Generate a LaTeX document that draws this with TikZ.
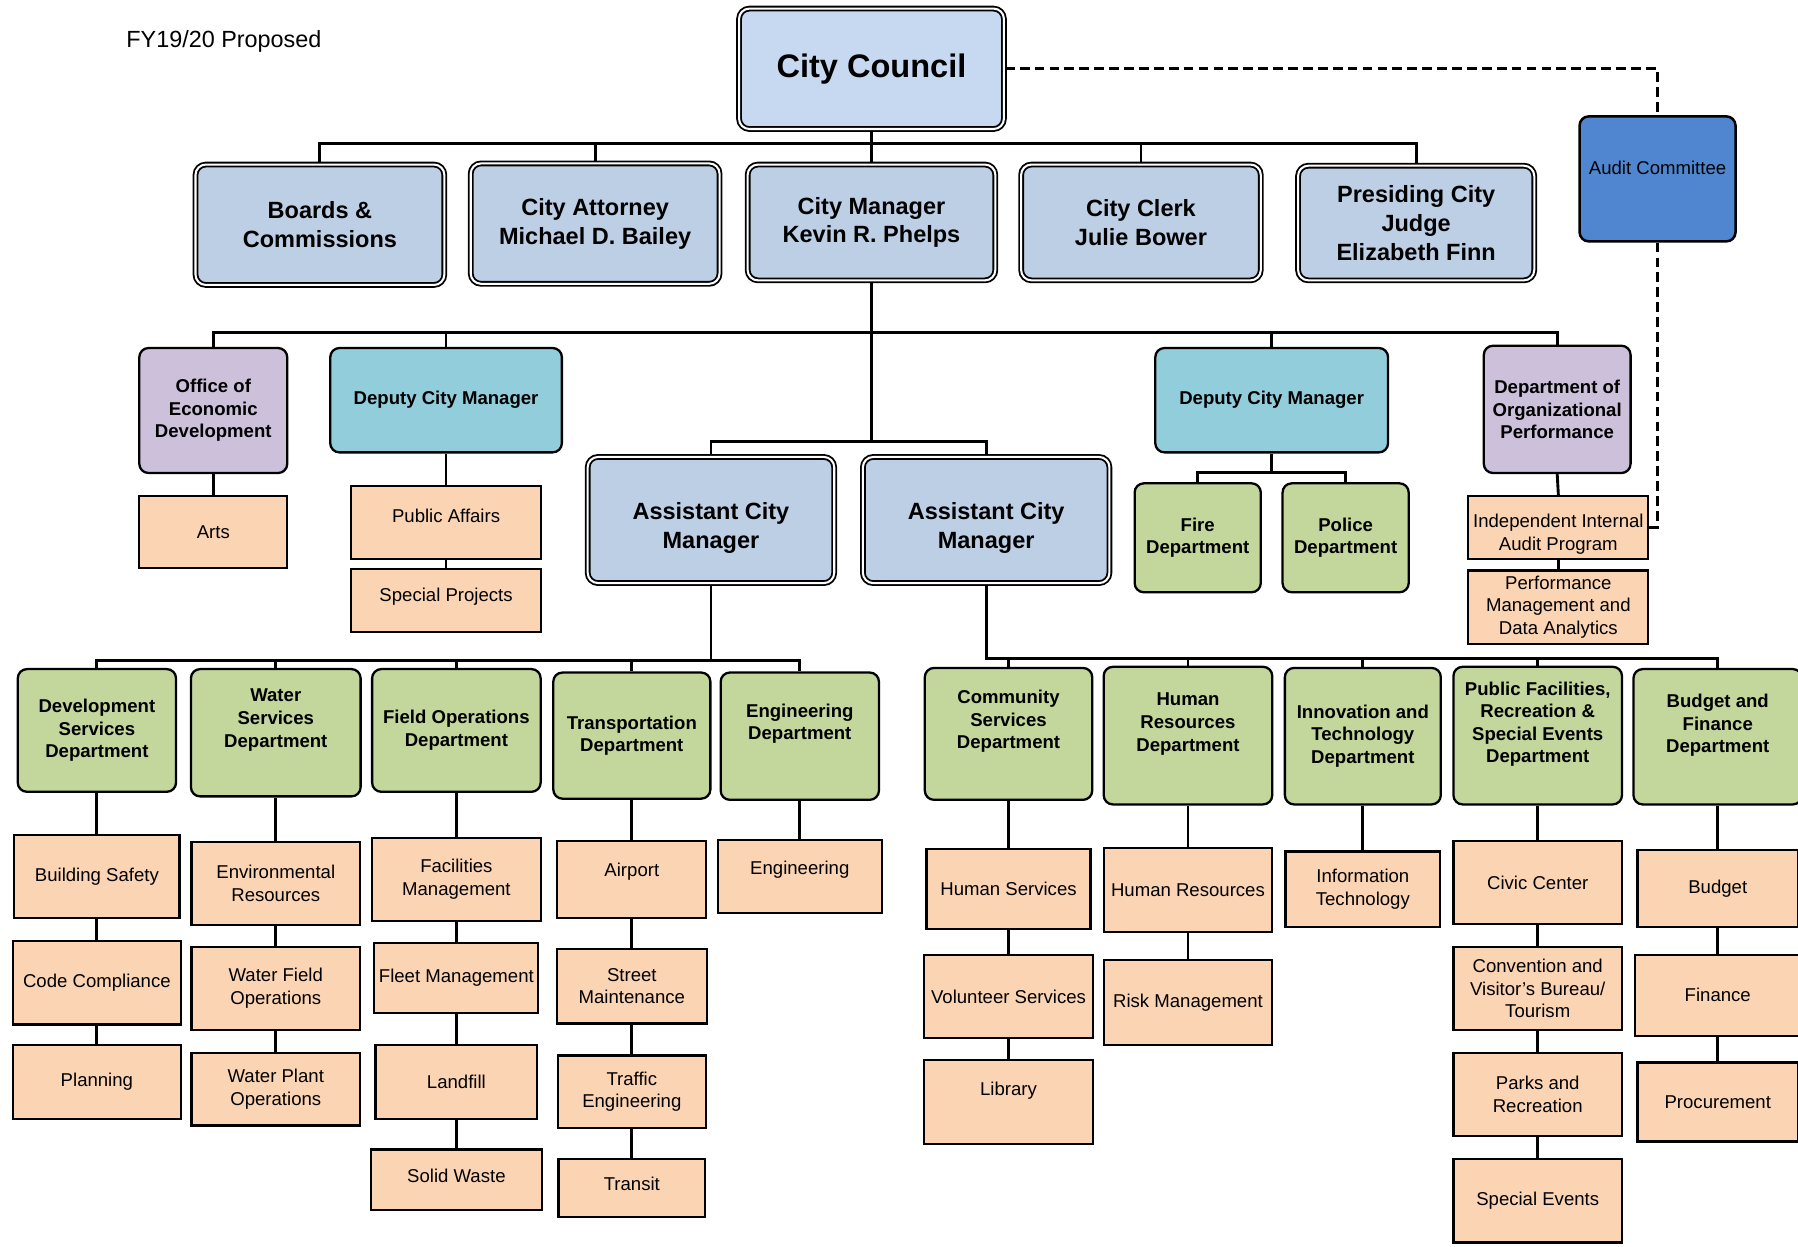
\documentclass[tikz,border=0pt]{standalone}
\usepackage{fontspec}
\setmainfont{Liberation Sans}
\usetikzlibrary{backgrounds}
\definecolor{ccfill}{HTML}{C6D9F1}
\definecolor{lvfill}{HTML}{BDCFE5}
\definecolor{grfill}{HTML}{C3D69B}
\definecolor{pefill}{HTML}{FBD4B4}
\definecolor{pufill}{HTML}{CCC0DA}
\definecolor{tefill}{HTML}{92CDDC}
\definecolor{aufill}{HTML}{4F86CF}
\newcommand\lift[1]{\rule[-#1]{0pt}{#1}}
\newcommand\drop[1]{\rule{0pt}{#1}}
\newcommand\fntS{\fontsize{16.2}{19.8}\selectfont}
\newcommand\fntSB{\fontsize{16.2}{19.7}\selectfont\bfseries}
\newcommand\fntL{\fontsize{20.5}{25}\selectfont\bfseries}
\newcommand\fntCC{\fontsize{28.4}{34}\selectfont\bfseries}
\newcommand\fntT{\fontsize{20.4}{24}\selectfont}
\tikzset{
  box/.style={draw=black, line width=2pt, inner sep=0pt, align=center, anchor=center, text=black},
  sz/.style 2 args={minimum width=#1pt, minimum height=#2pt},
  dblbox/.style={box, rounded corners=9pt, line width=1.6pt, double=white, double distance=1.8pt, fill=lvfill, font=\fntL},
  grbox/.style={box, rounded corners=8pt, fill=grfill, font=\fntSB},
  pubox/.style={box, rounded corners=8pt, fill=pufill, font=\fntSB},
  tebox/.style={box, rounded corners=8pt, fill=tefill, font=\fntSB},
  pebox/.style={box, line width=1.9pt, fill=pefill, font=\fntS},
  aubox/.style={box, rounded corners=8pt, line width=2.2pt, fill=aufill, font=\fntS},
  conn/.style={draw=black, line width=2.5pt},
  dashline/.style={draw=black, line width=2.4pt, dash pattern=on 8.5pt off 4.5pt}
}
\begin{document}
\begin{tikzpicture}[x=1pt, y=-1pt]
\useasboundingbox (0,0) rectangle (1568,1087);

\node[anchor=base west, font=\fntT, inner sep=0pt] (title) at (110,41) {FY19/20 Proposed};

% top levels
\node[dblbox, fill=ccfill, font=\fntCC, sz={231}{105}] (cc) at (760,60) {City Council};
\node[dblbox, sz={217}{105}] (boards) at (279,196) {Boards \&\\Commissions};
\node[dblbox, sz={217}{105}] (atty) at (519,195) {City Attorney\\Michael D. Bailey};
\node[dblbox, sz={216}{101}] (cm) at (760,194) {City Manager\\Kevin R. Phelps};
\node[dblbox, sz={209}{101}] (clerk) at (995,194) {City Clerk\\Julie Bower};
\node[dblbox, sz={206}{100}] (judge) at (1235,194.5) {Presiding City\\Judge\\Elizabeth Finn};
\node[aubox, sz={136}{109}] (audit) at (1445.5,156) {Audit Committee\lift{20pt}};

% level 3
\node[pubox, sz={129}{109}] (oed) at (186,358) {Office of\\Economic\\Development};
\node[tebox, sz={202}{91}] (dcma) at (389,349) {Deputy City Manager};
\node[tebox, sz={203}{91}] (dcmb) at (1109,349) {Deputy City Manager};
\node[pubox, sz={128}{111}] (dop) at (1358,357) {Department of\\Organizational\\Performance};
\node[pebox, sz={129}{63}] (arts) at (186,464) {Arts};
\node[pebox, sz={166}{64}] (pa) at (389,455.5) {Public Affairs\lift{12pt}};
\node[pebox, sz={166}{55}] (sp) at (389,524) {Special Projects\lift{11.4pt}};
\node[grbox, sz={110}{95}] (fire) at (1044.5,469) {Fire\\Department};
\node[grbox, sz={110}{95}] (police) at (1173.5,469) {Police\\Department};
\node[pebox, sz={157}{55}] (iiap) at (1359,460) {\drop{23.8pt}Independent Internal\\Audit Program};
\node[pebox, sz={157}{64}] (pmda) at (1359,529.5) {Performance\\Management and\\Data Analytics};
\node[dblbox, sz={215}{110}] (acma) at (620,453.5) {\drop{29pt}Assistant City\\Manager};
\node[dblbox, sz={215}{110}] (acmb) at (860,453.5) {\drop{29pt}Assistant City\\Manager};

% departments
\node[grbox, sz={138}{107}] (dev) at (84.5,637) {Development\\Services\\Department};
\node[grbox, sz={148}{111}] (water) at (240.5,639) {Water\\Services\\Department\lift{25.4pt}};
\node[grbox, sz={147}{107}] (field) at (398,637) {Field Operations\\Department};
\node[grbox, sz={137}{110}] (transp) at (551,641.5) {Transportation\\Department};
\node[grbox, sz={138}{111}] (engd) at (697.5,642) {Engineering\\Department\lift{25.4pt}};
\node[grbox, sz={146}{115}] (csd) at (879.5,640) {Community\\Services\\Department\lift{25.4pt}};
\node[grbox, sz={147}{120}] (hrd) at (1036,641.5) {Human\\Resources\\Department\lift{23.4pt}};
\node[grbox, sz={136}{119}] (itd) at (1188.5,642) {Innovation and\\Technology\\Department};
\node[grbox, sz={147}{120}] (pfd) at (1341,641.5) {Public Facilities,\\Recreation \&\\Special Events\\Department\lift{23.4pt}};
\node[grbox, sz={147}{118}] (bfd) at (1498,642.5) {Budget and\\Finance\\Department\lift{23.4pt}};

% divisions
\node[pebox, sz={144}{72}] (bs) at (84.5,764.5) {Building Safety};
\node[pebox, sz={146}{73}] (codec) at (84.5,857) {Code Compliance};
\node[pebox, sz={146}{64}] (plan) at (84.5,943.5) {Planning};
\node[pebox, sz={147}{72}] (envr) at (240.5,770.5) {Environmental\\Resources};
\node[pebox, sz={147}{73}] (wfo) at (240.5,862) {Water Field\\Operations};
\node[pebox, sz={147}{63}] (wpo) at (240.5,950) {Water Plant\\Operations};
\node[pebox, sz={147}{73}] (fm) at (398,767) {Facilities\\Management};
\node[pebox, sz={143}{61}] (fleet) at (398,853) {Fleet Management};
\node[pebox, sz={141}{64}] (landfill) at (398,943.5) {Landfill};
\node[pebox, sz={149}{53}] (sw) at (398,1029) {Solid Waste\lift{8pt}};
\node[pebox, sz={130}{67}] (airport) at (551,767) {Airport\lift{17.4pt}};
\node[pebox, sz={131}{65}] (street) at (551,860) {Street\\Maintenance};
\node[pebox, sz={129}{63}] (traffic) at (551,952) {Traffic\\Engineering};
\node[pebox, sz={128}{51}] (transit) at (551,1036) {Transit\lift{8pt}};
\node[pebox, sz={143}{64}] (eng) at (697.5,764.5) {Engineering\lift{15.4pt}};
\node[pebox, sz={143}{70}] (hs) at (879.5,775.5) {Human Services};
\node[pebox, sz={147}{73}] (vs) at (879.5,869) {Volunteer Services};
\node[pebox, sz={147}{73}] (lib) at (879.5,961) {Library\lift{23.4pt}};
\node[pebox, sz={147}{73}] (hr) at (1036,776) {Human Resources};
\node[pebox, sz={147}{74}] (risk) at (1036,874.5) {Risk Management};
\node[pebox, sz={135}{66}] (it) at (1188.5,775.5) {Information\\Technology};
\node[pebox, sz={147}{72}] (civic) at (1341,769.5) {Civic Center};
\node[pebox, sz={147}{73}] (cvb) at (1341,862) {Convention and\\Visitor’s Bureau/\\Tourism};
\node[pebox, sz={147}{72}] (parks) at (1341,954.5) {Parks and\\Recreation};
\node[pebox, sz={147}{73}] (se) at (1341,1047) {Special Events};
\node[pebox, sz={140}{67}] (budget) at (1498,775) {Budget};
\node[pebox, sz={144}{71}] (finance) at (1498,868) {Finance};
\node[pebox, sz={140}{69}] (proc) at (1498,961) {Procurement};

\coordinate (j1) at (760,125);
\coordinate (j2) at (760,290);
\coordinate (j3) at (760,385);
\coordinate (j4) at (1109,412);
\coordinate (j5) at (620,576);
\coordinate (j6) at (860,574);

\begin{scope}[on background layer]
\fill[white] (0,0) rectangle (1568,1087);
\draw[conn] (cc.south) -- (cm.north);
\draw[conn] (boards.north) |- (j1) -| (judge.north);
\draw[conn] (atty.north) -- (atty.north |- j1);
\draw[conn] (clerk.north) -- (clerk.north |- j1);
\draw[conn] (cm.south) -- (j3);
\draw[conn] (oed.north) |- (j2) -| (dop.north);
\draw[conn] (dcma.north) -- (dcma.north |- j2);
\draw[conn] (dcmb.north) -- (dcmb.north |- j2);
\draw[conn] (acma.north) |- (j3) -| (acmb.north);
\draw[conn] (oed.south) -- (arts.north);
\draw[conn] (dcma.south) -- (pa.north);
\draw[conn] (pa.south) -- (sp.north);
\draw[conn] (dcmb.south) -- (j4);
\draw[conn] (fire.north) |- (j4) -| (police.north);
\draw[conn] (dop.south) -- (iiap.north);
\draw[conn] (iiap.south) -- (pmda.north);
\draw[dashline] (cc.east) -| (audit.north);
\draw[dashline] (audit.south) |- (iiap.east);
\draw[conn] (acma.south) -- (j5);
\draw[conn] (dev.north) |- (j5) -| (engd.north);
\draw[conn] (water.north) -- (water.north |- j5);
\draw[conn] (field.north) -- (field.north |- j5);
\draw[conn] (transp.north) -- (transp.north |- j5);
\draw[conn] (acmb.south) -- (j6) -| (bfd.north);
\draw[conn] (csd.north) -- (csd.north |- j6);
\draw[conn] (hrd.north) -- (hrd.north |- j6);
\draw[conn] (itd.north) -- (itd.north |- j6);
\draw[conn] (pfd.north) -- (pfd.north |- j6);
% chains
\draw[conn] (dev.south) -- (bs.north);
\draw[conn] (bs.south) -- (codec.north);
\draw[conn] (codec.south) -- (plan.north);
\draw[conn] (water.south) -- (envr.north);
\draw[conn] (envr.south) -- (wfo.north);
\draw[conn] (wfo.south) -- (wpo.north);
\draw[conn] (field.south) -- (fm.north);
\draw[conn] (fm.south) -- (fleet.north);
\draw[conn] (fleet.south) -- (landfill.north);
\draw[conn] (landfill.south) -- (sw.north);
\draw[conn] (transp.south) -- (airport.north);
\draw[conn] (airport.south) -- (street.north);
\draw[conn] (street.south) -- (traffic.north);
\draw[conn] (traffic.south) -- (transit.north);
\draw[conn] (engd.south) -- (eng.north);
\draw[conn] (csd.south) -- (hs.north);
\draw[conn] (hs.south) -- (vs.north);
\draw[conn] (vs.south) -- (lib.north);
\draw[conn] (hrd.south) -- (hr.north);
\draw[conn] (hr.south) -- (risk.north);
\draw[conn] (itd.south) -- (it.north);
\draw[conn] (pfd.south) -- (civic.north);
\draw[conn] (civic.south) -- (cvb.north);
\draw[conn] (cvb.south) -- (parks.north);
\draw[conn] (parks.south) -- (se.north);
\draw[conn] (bfd.south) -- (budget.north);
\draw[conn] (budget.south) -- (finance.north);
\draw[conn] (finance.south) -- (proc.north);
\end{scope}
\end{tikzpicture}
\end{document}
